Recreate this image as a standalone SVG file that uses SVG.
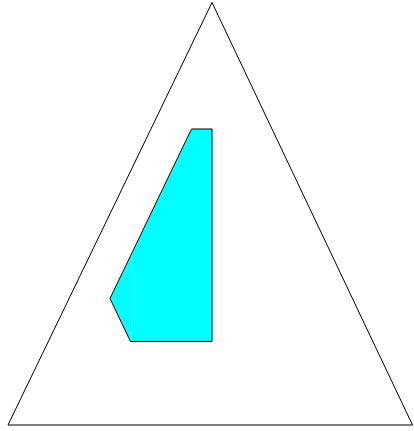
<svg xmlns="http://www.w3.org/2000/svg" width="414" height="431" viewBox="0 0 414 431">
<style>
.tri{fill:none;stroke:#000;stroke-width:1}
.fill{fill:#00ffff;stroke:none}
.edge{fill:none;stroke:#000;stroke-width:1}
</style>
<rect width="414" height="431" fill="#fff"/>
<g id="triangle">
<polygon class="tri" points="212,2.5 8,425 412.5,425"/>
</g>
<g id="shape">
<polygon class="fill" points="110,298.5 131.5,253.8 131.5,341.5 130.5,341.5"/>
<polygon class="fill" points="131.5,253.8 191.5,129 212,129 212,341.5 131.5,341.5"/>
<polygon class="edge" points="191.5,129 212,129 212,341.5 130.5,341.5 110,298.5"/>
</g>
</svg>
